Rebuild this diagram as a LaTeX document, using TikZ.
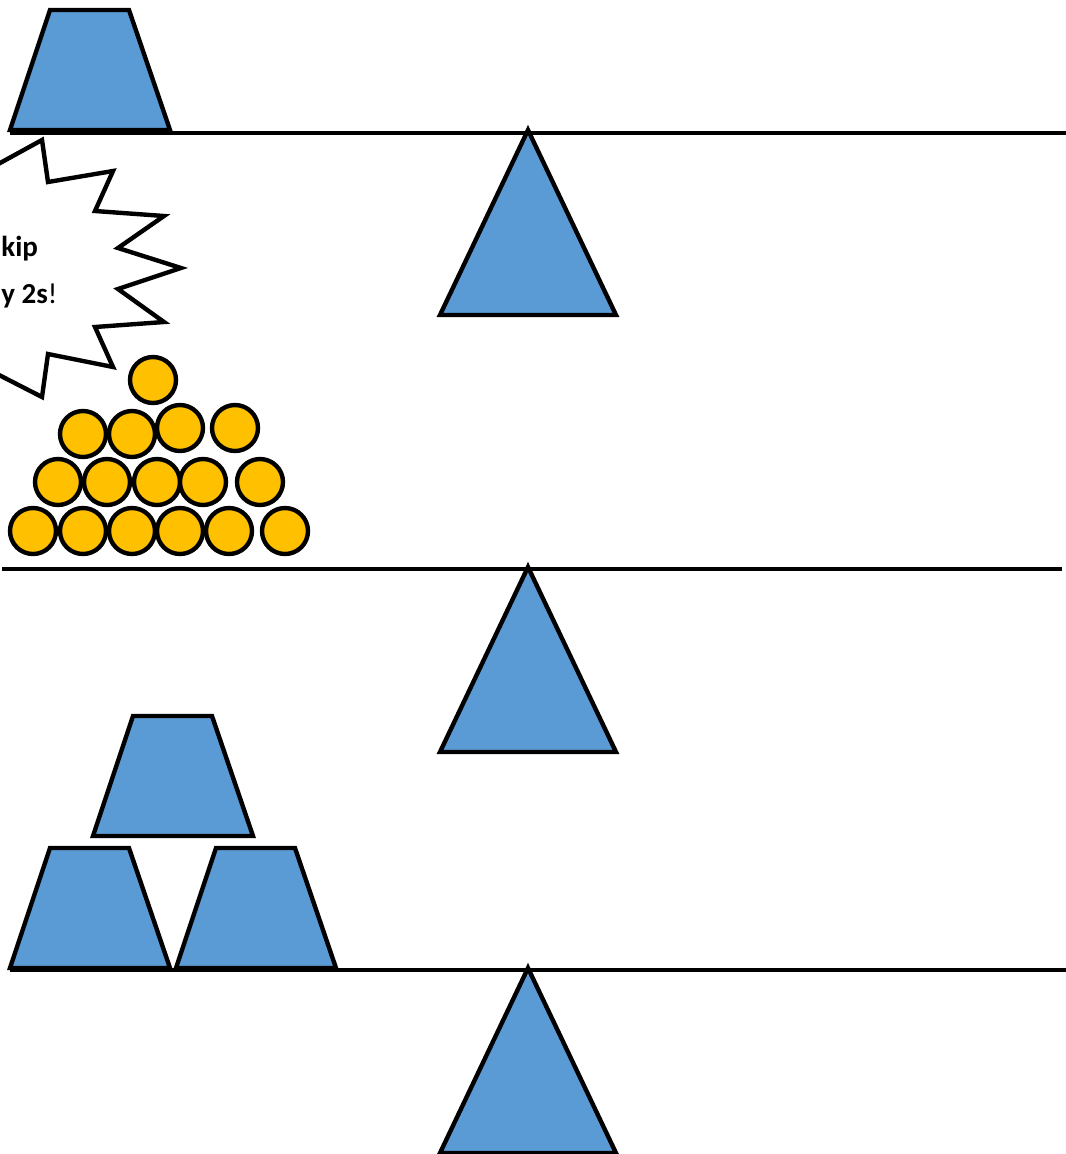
\documentclass[tikz,border=0pt]{standalone}
\usepackage{fontspec}
\setmainfont{Carlito}
\usepackage{xcolor}
\usetikzlibrary{calc}

\definecolor{blockblue}{HTML}{5B9BD5}
\definecolor{coingold}{HTML}{FFC000}

\tikzset{
	outline/.style = {draw = black, line width = 2.5pt, line join = miter},
	block/.style = {outline, fill = blockblue},
	coin/.style = {outline, fill = coingold},
	beam/.style = {draw = black, line width = 2.5pt},
	burst/.style = {outline, fill = white},
	saying/.style = {anchor = base west, inner sep = 0pt, font = \bfseries\fontsize{16.5}{18}\selectfont},
}

\begin{document}
\begin{tikzpicture}[x = 0.02cm, y = -0.02cm]
	%picture frame, one unit per pixel
	\useasboundingbox (0,0) rectangle (1066,1154);
	\clip (0,0) rectangle (1066,1154);
	
	%size of a block and of a pivot
	\def\blockH{120};
	\def\pivotH{185};
	\def\pivotW{88};
	
	%tips of the pivots
	\coordinate (P1) at (528,130);
	\coordinate (P2) at (528,567);
	\coordinate (P3) at (528,968);
	
	%beams
	\draw [beam] (10,133) -- (1066,133);
	\draw [beam] (2,569) -- (1062,569);
	\draw [beam] (10,970) -- (1066,970);
	
	%pivots
	\foreach \p in {P1, P2, P3}
		\draw [block] (\p) -- ++(-\pivotW,\pivotH) -- ++(2*\pivotW,0) -- cycle;
	
	%blocks, from their bottom left corner
	\coordinate (B1) at (10,130);
	\coordinate (B2) at (93,836);
	\coordinate (B3) at (10,968);
	\coordinate (B4) at (176,968);
	
	\foreach \b in {B1, B2, B3, B4}
		\draw [block] (\b) -- ++(40,-\blockH) -- ++(79,0) -- ++(41,\blockH) -- cycle;
	
	%speech burst
	\draw [burst] (-40,185) -- (42,140) -- (48,182) -- (113,171) -- (95,211) -- (164,216)
		-- (118,248) -- (181,268) -- (118,289) -- (164,322) -- (95,327) -- (113,367)
		-- (48,354) -- (42,397) -- (-40,355);
	
	\node [saying] (skip) at (1,256) {kip};
	\node [saying] (count) at (1,303) {y 2s\textmd{!}};
	
	%coins
	\foreach \x/\y in {33/531, 83/531, 132/531, 180/531, 229/531, 285/531,
			58/482, 107/482, 157/482, 203/482, 260/482,
			83/434, 132/434, 180/428, 235/428,
			153/380}
		\draw [coin] (\x,\y) circle [radius = 23];
\end{tikzpicture}
\end{document}
